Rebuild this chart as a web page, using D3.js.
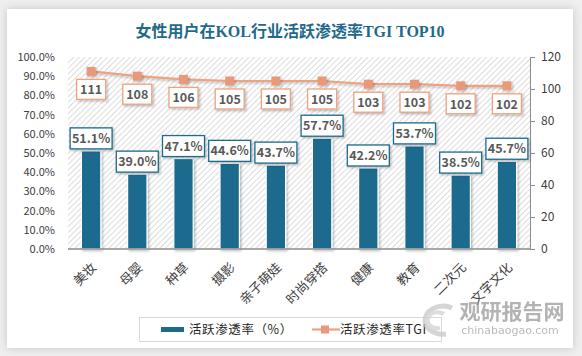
<!DOCTYPE html>
<html><head><meta charset="utf-8">
<script src="https://cdn.jsdelivr.net/npm/d3@7/dist/d3.min.js"></script>
<style>
html,body{margin:0;padding:0;background:#efefef;}
svg{display:block;}
</style></head>
<body>
<svg id="c" width="582" height="356"></svg>
<script>
const categories = ["美妆","母婴","种草","摄影","亲子萌娃","时尚穿搭","健康","教育","二次元","文字文化"];
const rateValues = [51.1,39.0,47.1,44.6,43.7,57.7,42.2,53.7,38.5,45.7];
const tgiValues = [111,108,106,105,105,105,103,103,102,102];
const leftTicks = [0,10,20,30,40,50,60,70,80,90,100];
const rightTicks = [0,20,40,60,80,100,120];
const title = "女性用户在KOL行业活跃渗透率TGI TOP10";
const legendLabels = ["活跃渗透率（%）","活跃渗透率TGI"];

const barColor = "#1d6a8d", lineColor = "#eea27f", markerColor = "#e8997a";
const svg = d3.select("#c");
const defs = svg.append("defs");
const f = defs.append("filter").attr("id","sh").attr("x","-20%").attr("y","-20%").attr("width","150%").attr("height","150%");
f.append("feDropShadow").attr("dx",1.5).attr("dy",1.5).attr("stdDeviation",1.2).attr("flood-color","#000").attr("flood-opacity",0.25);
const cf = defs.append("filter").attr("id","csh").attr("x","-5%").attr("y","-5%").attr("width","110%").attr("height","110%");
cf.append("feDropShadow").attr("dx",0).attr("dy",0).attr("stdDeviation",4).attr("flood-color","#000").attr("flood-opacity",0.18);
const pat = defs.append("pattern").attr("id","hatch").attr("patternUnits","userSpaceOnUse").attr("width",4).attr("height",4).attr("patternTransform","rotate(45)");
pat.append("rect").attr("width",4).attr("height",4).attr("fill","#ffffff");
pat.append("line").attr("x1",0).attr("y1",0).attr("x2",0).attr("y2",4).attr("stroke","#d4d4d4").attr("stroke-width",1.6);

// card
svg.append("rect").attr("x",7).attr("y",9).attr("width",566).attr("height",339).attr("fill","#fff").attr("filter","url(#csh)");

const L=68,R=530,T=57,B=249;
const x = d3.scaleBand().domain(categories).range([L,R]).paddingInner(0.58).paddingOuter(0.29);
const yL = d3.scaleLinear().domain([0,100]).range([B,T]);
const yR = d3.scaleLinear().domain([0,120]).range([B,T]);
const xc = d => x(d)+x.bandwidth()/2;

svg.append("rect").attr("x",L).attr("y",T).attr("width",R-L).attr("height",B-T).attr("fill","url(#hatch)");

// title
svg.append("text").attr("x",290).attr("y",37).attr("text-anchor","middle")
 .attr("font-family","'Liberation Serif','Noto Sans CJK SC',serif").attr("font-weight","bold")
 .attr("font-size",16).attr("fill","#1f6a8c").text(title);

// left axis
const gl = svg.append("g").attr("transform",`translate(${L},0)`)
 .call(d3.axisLeft(yL).tickValues(leftTicks).tickSize(0).tickPadding(13).tickFormat(d=>d.toFixed(1)+"%"));
gl.select(".domain").remove();
gl.selectAll("text").attr("font-family","'Noto Sans CJK SC',sans-serif").attr("font-size",11).attr("fill","#404040");

// right axis
const gr = svg.append("g").attr("transform",`translate(${R},0)`)
 .call(d3.axisRight(yR).tickValues(rightTicks).tickSize(5).tickPadding(6));
gr.select(".domain").attr("stroke","#8c8c8c");
gr.selectAll(".tick line").attr("stroke","#8c8c8c");
gr.selectAll("text").attr("font-family","'Noto Sans CJK SC',sans-serif").attr("font-size",12).attr("fill","#404040");

// bars
svg.append("g").selectAll("rect").data(rateValues).join("rect")
 .attr("x",(d,i)=>x(categories[i])).attr("y",d=>yL(d))
 .attr("width",x.bandwidth()).attr("height",d=>B-yL(d))
 .attr("fill",barColor).attr("stroke","#fff").attr("stroke-width",1.2).attr("filter","url(#sh)");

// bottom axis
const gb = svg.append("g").attr("transform",`translate(0,${B})`)
 .call(d3.axisBottom(x).tickSize(0).tickPadding(0));
gb.select(".domain").attr("stroke","#8c8c8c").attr("stroke-width",1.5).attr("d",`M${L},0H${R}`);
gb.selectAll("text").attr("font-family","'Noto Sans CJK SC',sans-serif").attr("font-size",13).attr("fill","#404040")
 .attr("text-anchor","end").attr("dy","0.35em")
 .attr("transform","translate(3,16) rotate(-45)");

// bar labels
const bl = svg.append("g").selectAll("g").data(rateValues).join("g")
 .attr("transform",(d,i)=>`translate(${xc(categories[i])},${yL(d)-2})`);
bl.append("rect").attr("x",-21).attr("y",-21).attr("width",42).attr("height",21)
 .attr("fill","#fff").attr("stroke",barColor).attr("stroke-width",1.3).attr("filter","url(#sh)");
bl.append("text").attr("y",-6).attr("text-anchor","middle")
 .attr("font-family","'Noto Sans CJK SC',sans-serif").attr("font-weight","bold").attr("font-size",12.5).attr("fill","#595959")
 .text(d=>d.toFixed(1)+"%");

// line
const line = d3.line().x((d,i)=>xc(categories[i])).y(d=>yR(d));
svg.append("path").datum(tgiValues).attr("d",line).attr("fill","none").attr("stroke",lineColor).attr("stroke-width",2.2).attr("filter","url(#sh)");
svg.append("g").selectAll("rect").data(tgiValues).join("rect")
 .attr("x",(d,i)=>xc(categories[i])-4.5).attr("y",d=>yR(d)-4.5).attr("width",9).attr("height",9)
 .attr("fill",markerColor).attr("filter","url(#sh)");

const tl = svg.append("g").selectAll("g").data(tgiValues).join("g")
 .attr("transform",(d,i)=>`translate(${xc(categories[i])},${yR(d)+8})`);
tl.append("rect").attr("x",-14.5).attr("y",0).attr("width",29).attr("height",20)
 .attr("fill","#fff").attr("stroke",lineColor).attr("stroke-width",1.3).attr("filter","url(#sh)");
tl.append("text").attr("y",15).attr("text-anchor","middle")
 .attr("font-family","'Noto Sans CJK SC',sans-serif").attr("font-weight","bold").attr("font-size",12.5).attr("fill","#595959")
 .text(d=>d);

// legend
svg.append("rect").attr("x",139.5).attr("y",317.5).attr("width",302).attr("height",24).attr("fill","#fff").attr("stroke","#d9d9d9");
svg.append("rect").attr("x",161).attr("y",327).attr("width",23).attr("height",5).attr("fill",barColor);
svg.append("text").attr("x",189).attr("y",334).attr("font-family","'Noto Sans CJK SC',sans-serif").attr("font-size",12.5).attr("letter-spacing",0.6).attr("fill","#262626").text(legendLabels[0]);
svg.append("line").attr("x1",312).attr("x2",340).attr("y1",329.5).attr("y2",329.5).attr("stroke",lineColor).attr("stroke-width",2.2);
svg.append("rect").attr("x",321).attr("y",325.5).attr("width",8).attr("height",8).attr("fill",markerColor);
svg.append("text").attr("x",340).attr("y",334).attr("font-family","'Noto Sans CJK SC',sans-serif").attr("font-size",12.5).attr("letter-spacing",0.6).attr("fill","#262626").text(legendLabels[1]);

// watermark
const wm = svg.append("g").attr("opacity",0.75);
wm.append("path").attr("d","M452,308 A18,14 0 1,0 446,334").attr("fill","none").attr("stroke","#c8c8c8").attr("stroke-width",5);
wm.append("path").attr("d","M444,314 A10,8 0 1,0 440,328").attr("fill","none").attr("stroke","#d2d2d2").attr("stroke-width",4);
wm.append("text").attr("x",512).attr("y",319).attr("text-anchor","middle").attr("font-family","'Noto Sans CJK SC',sans-serif").attr("font-weight","bold").attr("font-size",21).attr("fill","#9a9a9a").text("观研报告网");
wm.append("text").attr("x",510).attr("y",334).attr("text-anchor","middle").attr("font-family","'DejaVu Sans',sans-serif").attr("font-size",11).attr("fill","#a5a5a5").text("chinabaogao.com");
</script>
</body></html>
